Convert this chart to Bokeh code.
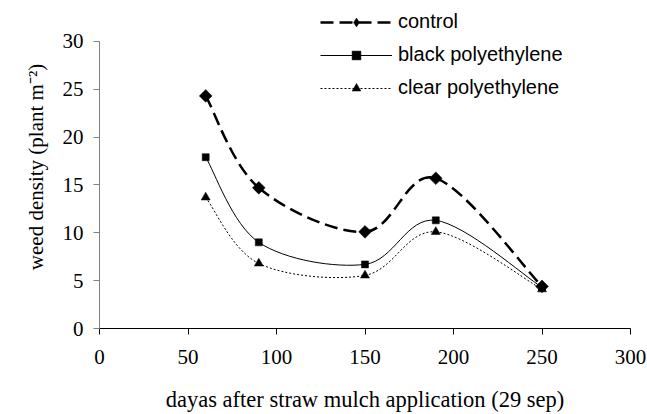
import numpy as np
from bokeh.plotting import figure
from bokeh.models import Range1d, SingleIntervalTicker, Legend, LegendItem
from bokeh.embed import file_html
from bokeh.resources import INLINE

# ---- data ----
days = [60, 90, 150, 190, 250]
control = [24.3, 14.7, 10.1, 15.7, 4.4]
black_pe = [17.9, 9.0, 6.7, 11.3, 4.3]
clear_pe = [13.7, 6.8, 5.55, 10.1, 4.1]
series_names = ["control", "black polyethylene", "clear polyethylene"]
x_axis_max = 300
y_axis_max = 30
x_tick_step = 50
y_tick_step = 5

x_title = "dayas after straw mulch application (29 sep)"
y_title = "weed density (plant m\u207b\u00b2)"


def smooth_segments(xs, ys, t=1.0 / 6.0):
    """Bezier control points for a smoothed (Excel-like) line through the points."""
    x = np.asarray(xs, dtype=float)
    y = np.asarray(ys, dtype=float)
    n = len(x)
    xp = np.concatenate([[x[0]], x, [x[-1]]])
    yp = np.concatenate([[y[0]], y, [y[-1]]])
    cx0 = x[:-1] + (xp[2:n + 1] - xp[0:n - 1]) * t
    cy0 = y[:-1] + (yp[2:n + 1] - yp[0:n - 1]) * t
    cx1 = x[1:] - (xp[3:n + 2] - xp[1:n]) * t
    cy1 = y[1:] - (yp[3:n + 2] - yp[1:n]) * t
    return dict(x0=x[:-1], y0=y[:-1], x1=x[1:], y1=y[1:],
                cx0=cx0, cy0=cy0, cx1=cx1, cy1=cy1)


# Layout: the frame reaches up to the top so the legend (which sits above the
# axis end) is not clipped; the y axis itself is bounded to 0..30.
frame_top_px = 5
axis_top_px = 41
frame_bottom_px = 329
y_view_top = y_axis_max * (frame_bottom_px - frame_top_px) / (frame_bottom_px - axis_top_px)

p = figure(width=647, height=414, output_backend="svg", toolbar_location=None,
           x_range=Range1d(0, x_axis_max), y_range=Range1d(0, y_view_top),
           min_border_left=99, min_border_right=17, min_border_top=frame_top_px,
           min_border_bottom=414 - frame_bottom_px)
p.outline_line_color = None
p.xgrid.grid_line_color = None
p.ygrid.grid_line_color = None
p.background_fill_color = "white"
p.border_fill_color = "white"

serif = "Liberation Serif"
sans = "Liberation Sans"

p.xaxis.ticker = SingleIntervalTicker(interval=x_tick_step)
p.yaxis.ticker = SingleIntervalTicker(interval=y_tick_step)
p.yaxis.bounds = (0, y_axis_max)
for ax in (p.xaxis, p.yaxis):
    ax.minor_tick_line_color = None
    ax.major_tick_in = 0
    ax.major_tick_out = 6
    ax.major_label_text_font = serif
    ax.major_label_text_font_size = "21px"
    ax.major_label_text_color = "black"
    ax.axis_label_text_font = serif
    ax.axis_label_text_font_style = "normal"
    ax.axis_label_text_color = "black"
p.xaxis.axis_label_text_font_size = "22.5px"
p.yaxis.axis_label_text_font_size = "21px"
p.xaxis.major_label_standoff = 15
p.xaxis.axis_label_standoff = 20
p.yaxis.major_label_standoff = 10
p.yaxis.axis_label_standoff = 12
p.xaxis.axis_line_color = "black"
p.xaxis.major_tick_line_color = "black"
p.yaxis.axis_line_color = "#808080"
p.yaxis.major_tick_line_color = "#808080"
p.xaxis.axis_label = x_title
p.yaxis.axis_label = y_title

styles = [
    dict(line_color="black", line_width=2.5, line_dash="13 6"),
    dict(line_color="black", line_width=1, line_dash="solid"),
    dict(line_color="black", line_width=1, line_dash="2 2"),
]
markers = [
    dict(marker="square", size=9, angle=np.pi / 4),
    dict(marker="square", size=7, angle=0),
    dict(marker="triangle", size=9, angle=0),
]
legend_markers = ["diamond", "square", "triangle"]

items = []
for name, ys, st, mk, lm in zip(series_names, [control, black_pe, clear_pe],
                                styles, markers, legend_markers):
    seg = smooth_segments(days, ys)
    p.bezier(x0=seg["x0"], y0=seg["y0"], x1=seg["x1"], y1=seg["y1"],
             cx0=seg["cx0"], cy0=seg["cy0"], cx1=seg["cx1"], cy1=seg["cy1"], **st)
    p.scatter(x=days, y=ys, marker=mk["marker"], size=mk["size"], angle=mk["angle"],
              fill_color="black", line_color="black", line_width=0.5)
    # legend-only glyphs (NaN data: they draw nothing inside the plot)
    legend_line = p.line(x=[np.nan, np.nan], y=[np.nan, np.nan], **st)
    legend_marker = p.scatter(x=[np.nan], y=[np.nan], marker=lm,
                              fill_color="black", line_color="black", line_width=0.5)
    items.append(LegendItem(label=name, renderers=[legend_line, legend_marker]))

legend = Legend(items=items, location=(221, 229), orientation="vertical",
                glyph_width=72, glyph_height=22, label_height=22, spacing=10,
                label_standoff=6, padding=0, margin=0,
                border_line_color=None, background_fill_alpha=0,
                label_text_font=sans, label_text_font_size="20px",
                label_text_color="black")
p.add_layout(legend, "center")

open("out.html", "w").write(file_html(p, INLINE))
